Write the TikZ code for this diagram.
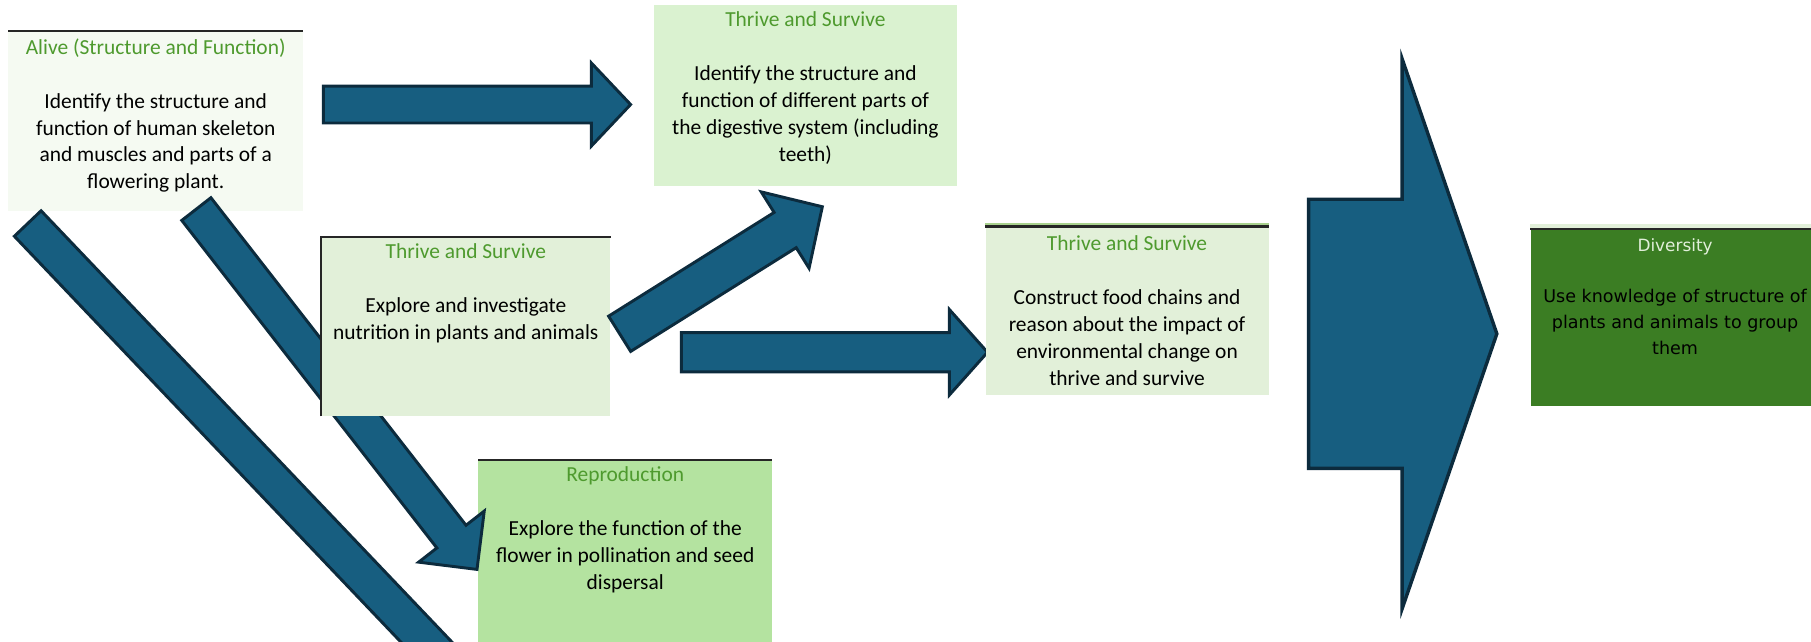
\documentclass[tikz,border=0pt]{standalone}
\usepackage{fontspec}
\setmainfont{Carlito}
\newfontfamily\diversityfont{DejaVu Sans}
\usetikzlibrary{calc, positioning}

\definecolor{arrowblue}{HTML}{175E80}
\definecolor{arrowline}{HTML}{0C2B3D}
\definecolor{titlegreen}{HTML}{4E9A2E}
\definecolor{cardpale}{HTML}{F5FAF2}
\definecolor{cardlight}{HTML}{DAF2D0}
\definecolor{cardsoft}{HTML}{E2F0D9}
\definecolor{cardmid}{HTML}{B4E3A0}
\definecolor{carddark}{HTML}{3B7D23}
\definecolor{stripgreen}{HTML}{A9D18E}
\definecolor{ruleblack}{HTML}{262626}
\definecolor{diversitytitle}{HTML}{E2EFDA}

\newcommand{\cardtitle}[1]{\textcolor{titlegreen}{#1}}
\newcommand{\flowarrow}[6][]{%
  \coordinate (#2#3) at ($(#3)!#6*0.025cm!(#2)$);
  \draw[arrowshape,#1] ($(#2)!#4*0.025cm!90:(#3)$) -- ($(#2#3)!#4*0.025cm!90:(#3)$)
    -- ($(#2#3)!#5*0.025cm!90:(#3)$) -- (#3) -- ($(#2#3)!#5*0.025cm!-90:(#3)$)
    -- ($(#2#3)!#4*0.025cm!-90:(#3)$) -- ($(#2)!#4*0.025cm!-90:(#3)$) -- cycle;
}

\begin{document}
\begin{tikzpicture}[x=0.025cm, y=-0.025cm,
    card/.style={rectangle, inner sep=0pt, anchor=north west},
    cardtext/.style={inner sep=0pt, align=center, font=\fontsize{13.2}{16.6}\selectfont},
    arrowshape/.style={fill=arrowblue, draw=arrowline, line width=1.8pt, line join=miter},
    rule/.style={draw=ruleblack, line width=1.4pt}]
    \clip (0,0) rectangle (1568,555);

    \node[card, fill=cardpale, minimum width=6.375cm, minimum height=3.875cm] (alive) at (7,27) {};
    \node[cardtext, below=0.15cm of alive.north] (alivetext) {\cardtitle{Alive (Structure and Function)}\\[16.6pt]
        Identify the structure and\\function of human skeleton\\and muscles and parts of a\\flowering plant.};
    \draw[rule] (alive.north west) -- (alive.north east);

    \node[card, fill=cardlight, minimum width=6.55cm, minimum height=3.925cm] (thrivetop) at (566,4) {};
    \node[cardtext, below=0.15cm of thrivetop.north] (thrivetoptext) {\cardtitle{Thrive and Survive}\\[16.6pt]
        Identify the structure and\\function of different parts of\\the digestive system (including\\teeth)};

    \node[card, fill=cardmid, minimum width=6.35cm, minimum height=4.5cm] (repro) at (414,398) {};
    \node[cardtext, below=0.15cm of repro.north] (reprotext) {\cardtitle{Reproduction}\\[16.6pt]
        Explore the function of the\\flower in pollination and seed\\dispersal};
    \draw[rule] (repro.north west) -- (repro.north east);

    \coordinate (t1) at (280,90.5);
    \coordinate (h1) at (546,90.5);
    \coordinate (t4) at (170,181);
    \coordinate (h4) at (413,493);
    \coordinate (t5) at (24,193.5);
    \coordinate (h5) at (576,773);
    \flowarrow{t1}{h1}{16}{36}{34}
    \flowarrow{t4}{h4}{16}{36}{36}
    \flowarrow{t5}{h5}{16}{36}{36}

    \node[card, fill=cardsoft, minimum width=6.25cm, minimum height=3.875cm] (thrivemid) at (278,205) {};
    \node[cardtext, below=0.15cm of thrivemid.north] (thrivemidtext) {\cardtitle{Thrive and Survive}\\[16.6pt]
        Explore and investigate\\nutrition in plants and animals};
    \draw[rule] (thrivemid.south west) -- (thrivemid.north west) -- (thrivemid.north east);

    \coordinate (t2) at (536.5,289);
    \coordinate (h2) at (712,179);
    \coordinate (t3) at (590,305);
    \coordinate (h3) at (855,305);
    \flowarrow{t2}{h2}{18}{39}{38}
    \flowarrow{t3}{h3}{17}{37}{33}

    \node[card, fill=cardsoft, minimum width=6.125cm, minimum height=3.65cm] (thriveright) at (853,196) {};
    \fill[stripgreen] ($(thriveright.north west)+(0,-3)$) rectangle (thriveright.north east);
    \draw[rule] (thriveright.north west) -- (thriveright.north east);
    \node[cardtext, below=0.2cm of thriveright.north] (thriverighttext) {\cardtitle{Thrive and Survive}\\[16.6pt]
        Construct food chains and\\reason about the impact of\\environmental change on\\thrive and survive};

    \coordinate (t6) at (1133,289);
    \coordinate (h6) at (1296,289);
    \flowarrow[line width=2.1pt]{t6}{h6}{116.5}{238}{82}

    \node[card, fill=carddark, minimum width=6.25cm, minimum height=3.825cm] (diversity) at (1325,198) {};
    \fill[cardsoft] ($(diversity.north west)+(0,-4)$) rectangle (diversity.north east);
    \draw[rule] (diversity.north west) -- (diversity.north east);
    \node[cardtext, font=\diversityfont\fontsize{10.8}{15.9}\selectfont, below=0.2cm of diversity.north] (diversitytext)
        {\textcolor{diversitytitle}{\fontsize{10.4}{15.9}\selectfont Diversity}\\[15.9pt]
        Use knowledge of structure of\\plants and animals to group\\them};
\end{tikzpicture}
\end{document}
